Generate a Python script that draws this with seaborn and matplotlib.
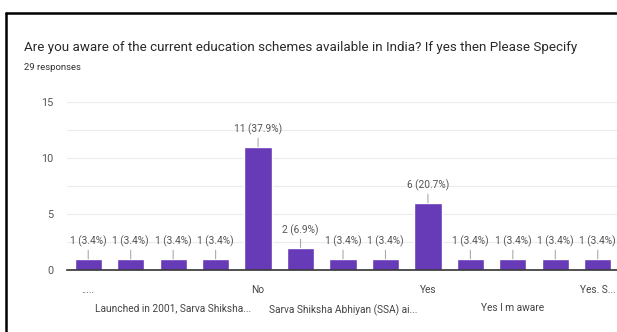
import matplotlib
matplotlib.use("Agg")
import matplotlib.pyplot as plt
import seaborn as sns
import pandas as pd
from matplotlib.lines import Line2D
from matplotlib.ticker import MultipleLocator

# ---- data ----
categories = [".....", "answer 2", "Launched in 2001, Sarva Shiksha...", "answer 4",
              "No", "answer 6", "Sarva Shiksha Abhiyan (SSA) ai...", "answer 8",
              "Yes", "answer 10", "Yes I m aware", "answer 12", "Yes. S..."]
counts = [1, 1, 1, 1, 11, 2, 1, 1, 6, 1, 1, 1, 1]
tick_labels = [".....", "", "\nLaunched in 2001, Sarva Shiksha...", "",
               "No", "", "\nSarva Shiksha Abhiyan (SSA) ai...", "",
               "Yes", "", "\nYes I m aware", "", "Yes. S..."]
total = 29
title = "Are you aware of the current education schemes available in India? If yes then Please Specify"
subtitle = "29 responses"

sns.set_theme(style="white")
plt.rcParams['font.family'] = ['Roboto', 'DejaVu Sans']

df = pd.DataFrame({"category": categories, "count": counts})

fig = plt.figure(figsize=(6.17, 3.32), dpi=100)
ax = fig.add_axes([67/617, (332-270)/332, (619-67)/617, (270-102)/332])

sns.barplot(data=df, x="category", y="count", order=categories,
            color="#673ab7", saturation=1, width=0.64, ax=ax)

ax.set_ylim(0, 15)
ax.set_xlim(-0.5, len(categories) - 0.5)
ax.yaxis.set_major_locator(MultipleLocator(5))
ax.yaxis.set_minor_locator(MultipleLocator(2.5))
ax.grid(axis="y", which="both", color="#ececec", lw=0.8)
ax.set_axisbelow(True)
for s in ["top", "right", "left"]:
    ax.spines[s].set_visible(False)
ax.spines["bottom"].set_color("#333333")
ax.spines["bottom"].set_linewidth(1.2)
ax.set_xlabel("")
ax.set_ylabel("")
ax.set_xticks(range(len(categories)))
ax.set_xticklabels(tick_labels, fontsize=7.3, color="#444444", linespacing=2.0)
ax.tick_params(axis="x", length=0, pad=11)
ax.tick_params(axis="y", length=0, pad=10, labelsize=7.8, labelcolor="#555555")

for i, c in enumerate(counts):
    ax.annotate(f"{c} ({c/total*100:.1f}%)", xy=(i, c), xytext=(0, 8.5),
                textcoords="offset points", ha="center", va="bottom",
                fontsize=7.3, color="#555555",
                arrowprops=dict(arrowstyle="-", color="#aaaaaa", lw=0.8,
                                shrinkA=0, shrinkB=0))

fig.text(24/617, 1 - 47/332, title, fontsize=9.6, color="#2a2a2a", va="center", ha="left")
fig.text(24/617, 1 - 68/332, subtitle, fontsize=6.8, color="#333333", va="center", ha="left")

# frame border (left and top)
fig.add_artist(Line2D([6/617, 6/617], [0, 1 - 13/332], transform=fig.transFigure, color="black", lw=1.8))
fig.add_artist(Line2D([6/617, 1], [1 - 13/332, 1 - 13/332], transform=fig.transFigure, color="black", lw=1.8))

fig.savefig("out.png", dpi=100)
